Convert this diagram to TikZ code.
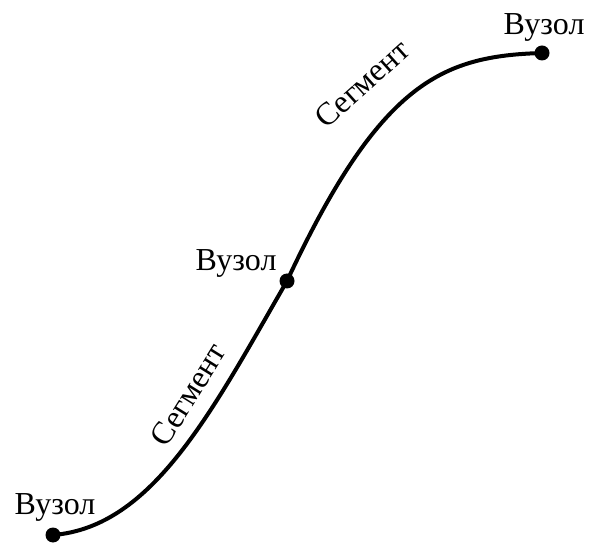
\documentclass[tikz,border=0pt]{standalone}
\usepackage{fontspec}
\setmainfont{Liberation Serif}
\begin{document}
\begin{tikzpicture}[x=1pt,y=1pt,every node/.style={font=\fontsize{32}{36}\selectfont},
  vuzol/.style={circle,fill=black,inner sep=0pt,minimum size=15pt}]
\useasboundingbox (0,0) rectangle (589,544);
\coordinate (p1) at (53,9);
\coordinate (p2) at (287,263);
\coordinate (p3) at (542,491);
\draw[line width=4pt] (p1) .. controls (153,17) and (212,133) .. (p2)
  .. controls (380,462) and (442,488) .. (p3);
\node[vuzol] (n1) at (p1) {};
\node[vuzol] (n2) at (p2) {};
\node[vuzol] (n3) at (p3) {};
\node (l1) at (55,37) {Вузол};
\node (l2) at (236,281) {Вузол};
\node (l3) at (544,517) {Вузол};
\node[rotate=58] (s1) at (188,149) {Сегмент};
\node[rotate=42] (s2) at (362,460) {Сегмент};
\end{tikzpicture}
\end{document}
